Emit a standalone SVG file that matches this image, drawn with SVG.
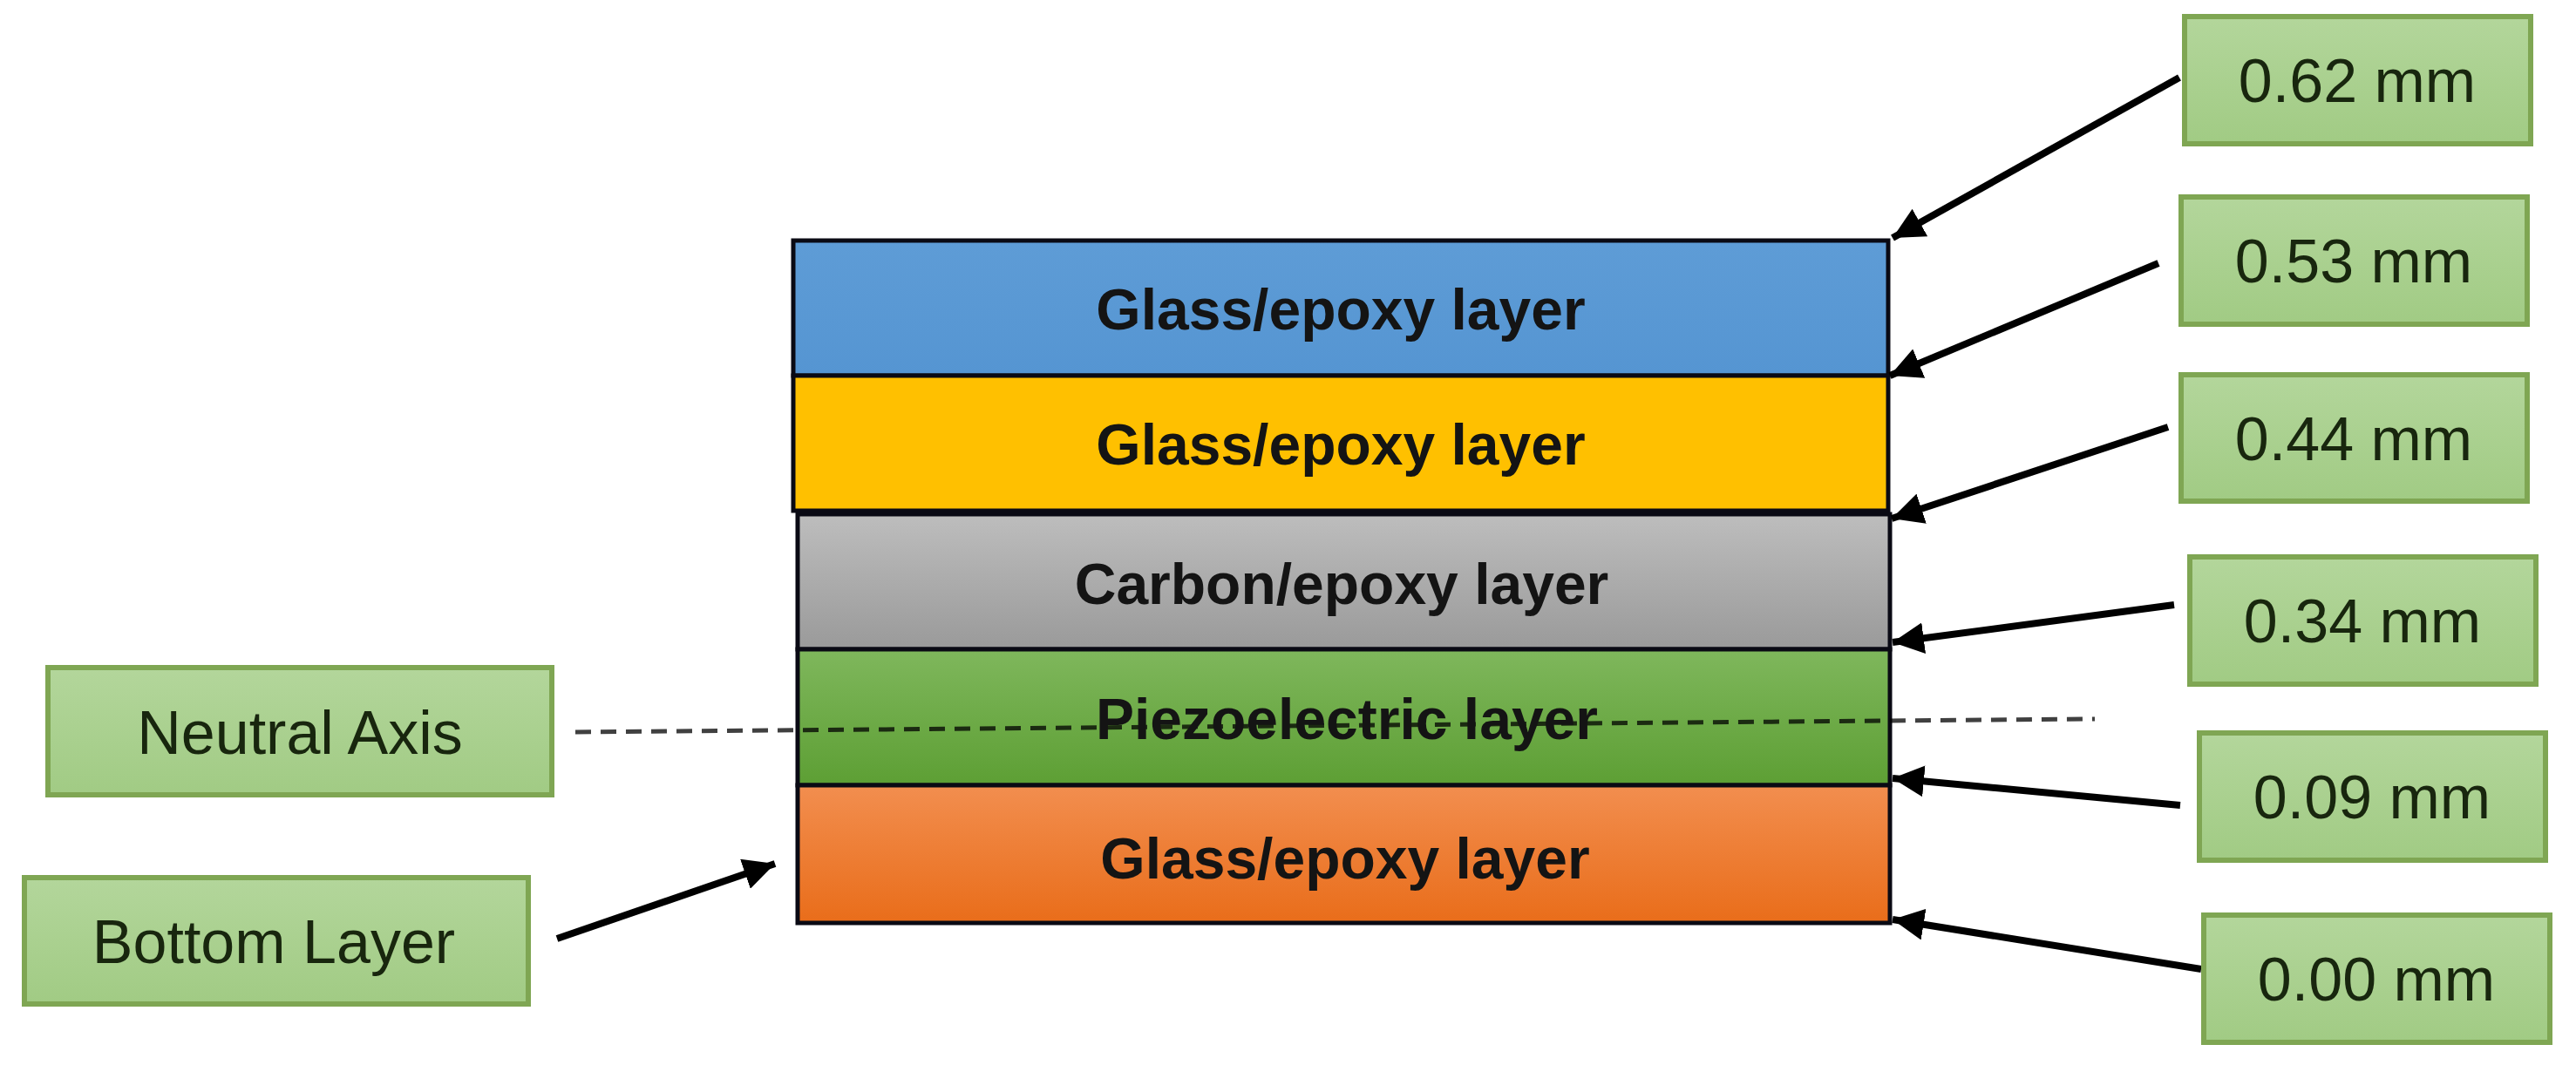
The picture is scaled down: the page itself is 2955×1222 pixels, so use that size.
<svg xmlns="http://www.w3.org/2000/svg" width="2955" height="1222" viewBox="0 0 2955 1222">
<defs>
<style>
.layer{stroke:#0a0a14;stroke-width:5}
.ltxt{font-family:"Liberation Sans",Arial,sans-serif;font-weight:bold;font-size:66px;fill:#141414;text-anchor:middle}
.box{fill:url(#gBox);stroke:#7fa653;stroke-width:6}
.btxt{font-family:"Liberation Sans",Arial,sans-serif;font-size:70px;fill:#18260e;text-anchor:middle}
.arr{stroke:#000;stroke-width:8;fill:none;marker-end:url(#ah)}
.dash{stroke:#000;stroke-opacity:0.75;stroke-width:5;stroke-dasharray:18 11;fill:none}
</style>
<marker id="ah" markerUnits="userSpaceOnUse" markerWidth="40" markerHeight="36" refX="36" refY="18" orient="auto">
<path d="M0,0 L36,18 L0,36 z" fill="#000"/>
</marker>
<linearGradient id="gBox" x1="0" y1="0" x2="0" y2="1">
<stop offset="0" stop-color="#b3d69b"/><stop offset="1" stop-color="#a1cb84"/>
</linearGradient>
<linearGradient id="gBlue" x1="0" y1="0" x2="0" y2="1">
<stop offset="0" stop-color="#5e9cd6"/><stop offset="1" stop-color="#5595d2"/>
</linearGradient>
<linearGradient id="gGray" x1="0" y1="0" x2="0" y2="1">
<stop offset="0" stop-color="#bdbdbd"/><stop offset="1" stop-color="#9a9a9a"/>
</linearGradient>
<linearGradient id="gGreen" x1="0" y1="0" x2="0" y2="1">
<stop offset="0" stop-color="#7fb75c"/><stop offset="1" stop-color="#5d9f34"/>
</linearGradient>
<linearGradient id="gOrange" x1="0" y1="0" x2="0" y2="1">
<stop offset="0" stop-color="#f28e4f"/><stop offset="1" stop-color="#e96d1a"/>
</linearGradient>
</defs>
<rect width="2955" height="1222" fill="#ffffff"/>

<g id="layer-blue">
<rect class="layer" x="910" y="276" width="1256" height="155" fill="url(#gBlue)"/>
<text class="ltxt" x="1538" y="378" fill="#0c1a33">Glass/epoxy layer</text>
</g>
<g id="layer-yellow">
<rect class="layer" x="910" y="431" width="1256" height="155" fill="#ffc000"/>
<text class="ltxt" x="1538" y="533">Glass/epoxy layer</text>
</g>
<g id="layer-gray">
<rect class="layer" x="915" y="590" width="1253" height="155" fill="url(#gGray)"/>
<text class="ltxt" x="1539" y="693">Carbon/epoxy layer</text>
</g>
<g id="layer-green">
<rect class="layer" x="915" y="745" width="1253" height="156" fill="url(#gGreen)"/>
</g>
<g id="layer-orange">
<rect class="layer" x="915" y="901" width="1253" height="158" fill="url(#gOrange)" stroke="#2a0800"/>
<text class="ltxt" x="1543" y="1008">Glass/epoxy layer</text>
</g>

<g id="connectors">
<line class="dash" x1="660" y1="840" x2="2403" y2="825"/>
<line class="arr" x1="2500" y1="89" x2="2171" y2="273"/>
<line class="arr" x1="2476" y1="302" x2="2168" y2="431"/>
<line class="arr" x1="2487" y1="490" x2="2170" y2="595"/>
<line class="arr" x1="2494" y1="694" x2="2171" y2="737"/>
<line class="arr" x1="2501" y1="924" x2="2171" y2="893"/>
<line class="arr" x1="2525" y1="1112" x2="2171" y2="1055"/>
<line class="arr" x1="639" y1="1077" x2="889" y2="991"/>
</g>

<g id="layer-green-label">
<text class="ltxt" x="1545" y="848">Piezoelectric layer</text>
</g>

<g id="box-062">
<rect class="box" x="2506" y="19" width="397" height="146"/>
<text class="btxt" x="2704" y="117">0.62 mm</text>
</g>
<g id="box-053">
<rect class="box" x="2502" y="226" width="397" height="146"/>
<text class="btxt" x="2700" y="324">0.53 mm</text>
</g>
<g id="box-044">
<rect class="box" x="2502" y="430" width="397" height="145"/>
<text class="btxt" x="2700" y="528">0.44 mm</text>
</g>
<g id="box-034">
<rect class="box" x="2512" y="639" width="397" height="146"/>
<text class="btxt" x="2710" y="737">0.34 mm</text>
</g>
<g id="box-009">
<rect class="box" x="2523" y="841" width="397" height="146"/>
<text class="btxt" x="2721" y="939">0.09 mm</text>
</g>
<g id="box-000">
<rect class="box" x="2528" y="1050" width="397" height="146"/>
<text class="btxt" x="2726" y="1148">0.00 mm</text>
</g>
<g id="box-neutral">
<rect class="box" x="55" y="766" width="578" height="146"/>
<text class="btxt" x="344" y="865">Neutral Axis</text>
</g>
<g id="box-bottom">
<rect class="box" x="28" y="1007" width="578" height="145"/>
<text class="btxt" x="314" y="1105">Bottom Layer</text>
</g>
</svg>
